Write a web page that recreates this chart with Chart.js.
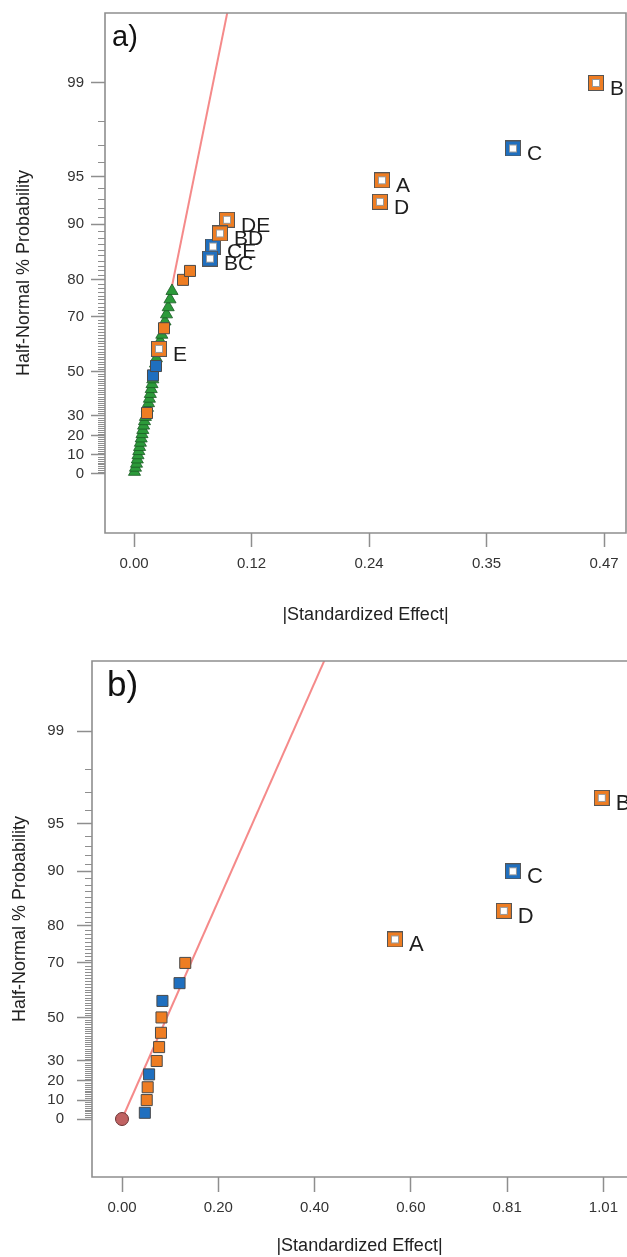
<!DOCTYPE html>
<html>
<head>
<meta charset="utf-8">
<script src="https://cdn.jsdelivr.net/npm/chart.js@4.4.1/dist/chart.umd.min.js"></script>
<style>
  html, body { margin: 0; padding: 0; background: #fff; }
  body { width: 627px; height: 1257px; position: relative; overflow: hidden; }
  #ca { position: absolute; left: 0; top: 0; }
  #cb { position: absolute; left: 0; top: 640px; }
</style>
</head>
<body>
<canvas id="ca" width="627" height="640"></canvas>
<canvas id="cb" width="627" height="617"></canvas>
<script>
const FONT = "'Liberation Sans', Arial, sans-serif";
const ORANGE = '#ee7d23', BLUE = '#1f6fbf', GREEN = '#2c9a3a', PINK = '#f58a8a', AXIS = '#8e8e8e';

// probability axis (half-normal %), same for both panels
const yMajorPct = [0, 10, 20, 30, 50, 70, 80, 90, 95, 99];

// ---------- a) ----------
const aTickVals = [0, 0.1175, 0.235, 0.3525, 0.47];
const aTickLabels = ['0.00', '0.12', '0.24', '0.35', '0.47'];
// error estimates (green triangles)
const aErrP = [1.1, 3.3, 5.4, 7.6, 9.8, 12.0, 14.1, 16.3, 18.5, 20.7, 22.8, 25.0, 27.2, 29.3,
               33.7, 35.9, 38.0, 40.2, 42.4, 44.6, 46.7, 53.3, 55.4, 57.6, 62.0, 64.1,
               68.5, 70.7, 72.8, 75.0, 77.2];
const aErrX = [0.0005, 0.0015, 0.0025, 0.0033, 0.0040, 0.0048, 0.0056, 0.0064, 0.0072, 0.0080, 0.0088, 0.0096, 0.0105, 0.0114,
               0.0135, 0.0145, 0.0154, 0.0163, 0.0172, 0.0180, 0.0188, 0.0215, 0.0224, 0.0236, 0.0262, 0.0278,
               0.0310, 0.0325, 0.0342, 0.0360, 0.0380];
// unlabelled effects
const aOrangeX = [0.013, 0.030, 0.049, 0.056];
const aOrangeP = [31.2, 66.3, 79.9, 81.9];
const aBlueX = [0.019, 0.022];
const aBlueP = [48.4, 52.3];
// labelled effects
const aHollowOrangeNames = ['B', 'A', 'D', 'DE', 'BD', 'E'];
const aHollowOrangeX = [0.462, 0.248, 0.246, 0.093, 0.086, 0.025];
const aHollowOrangeP = [99.0, 94.7, 92.7, 90.6, 88.7, 59.0];
const aHollowBlueNames = ['C', 'CE', 'BC'];
const aHollowBlueX = [0.379, 0.079, 0.076];
const aHollowBlueP = [96.8, 86.6, 84.4];
// fitted line
const aLineX = [0, 0.101];
const aLineP = [0, 99.9];

// ---------- b) ----------
const bTickVals = [0, 0.2025, 0.405, 0.6075, 0.81, 1.0125];
const bTickLabels = ['0.00', '0.20', '0.40', '0.60', '0.81', '1.01'];
const bOrangeX = [0.052, 0.054, 0.073, 0.078, 0.082, 0.083, 0.133];
const bOrangeP = [10.0, 16.7, 30.0, 36.7, 43.3, 50.0, 70.0];
const bBlueX = [0.048, 0.057, 0.085, 0.121];
const bBlueP = [3.3, 23.3, 56.7, 63.3];
const bHollowOrangeNames = ['B', 'D', 'A'];
const bHollowOrangeX = [1.009, 0.803, 0.574];
const bHollowOrangeP = [96.7, 83.3, 76.7];
const bHollowBlueNames = ['C'];
const bHollowBlueX = [0.822];
const bHollowBlueP = [90.0];
const bOriginX = [0];
const bOriginP = [0];
const bLineX = [0, 0.46];
const bLineP = [0, 99.9];

// inverse normal cdf (Acklam)
function probit(q) {
  const a = [-39.69683028665376, 220.9460984245205, -275.9285104469687, 138.3577518672690, -30.66479806614716, 2.506628277459239];
  const b = [-54.47609879822406, 161.5858368580409, -155.6989798598866, 66.80131188771972, -13.28068155288572];
  const c = [-0.007784894002430293, -0.3223964580411365, -2.400758277161838, -2.549732539343734, 4.374664141464968, 2.938163982698783];
  const d = [0.007784695709041462, 0.3224671290700398, 2.445134137142996, 3.754408661907416];
  const lo = 0.02425;
  if (q < lo) {
    const r = Math.sqrt(-2 * Math.log(q));
    return (((((c[0]*r+c[1])*r+c[2])*r+c[3])*r+c[4])*r+c[5]) / ((((d[0]*r+d[1])*r+d[2])*r+d[3])*r+1);
  }
  if (q > 1 - lo) {
    const r = Math.sqrt(-2 * Math.log(1 - q));
    return -(((((c[0]*r+c[1])*r+c[2])*r+c[3])*r+c[4])*r+c[5]) / ((((d[0]*r+d[1])*r+d[2])*r+d[3])*r+1);
  }
  const s = q - 0.5, r = s * s;
  return (((((a[0]*r+a[1])*r+a[2])*r+a[3])*r+a[4])*r+a[5])*s / (((((b[0]*r+b[1])*r+b[2])*r+b[3])*r+b[4])*r+1);
}
const hnz = pct => probit(0.5 + pct / 200);
const pts = (xs, ps) => xs.map((x, i) => ({x: x, y: hnz(ps[i])}));

// hollow square marker
function hollow(ring) {
  const c = document.createElement('canvas');
  c.width = c.height = 16;
  const g = c.getContext('2d');
  g.fillStyle = '#555'; g.fillRect(0, 0, 16, 16);
  g.fillStyle = ring; g.fillRect(1, 1, 14, 14);
  g.fillStyle = '#9a9a9a'; g.fillRect(4, 4, 8, 8);
  g.fillStyle = '#fff'; g.fillRect(5, 5, 6, 6);
  return c;
}

const minorTicks = {
  id: 'minorTicks',
  afterDraw(chart, args, o) {
    const y = chart.scales.y, left = chart.chartArea.left, ctx = chart.ctx;
    ctx.save();
    ctx.strokeStyle = AXIS; ctx.lineWidth = 1.2;
    ctx.beginPath();
    for (let p = 1; p < 99; p++) {
      if (yMajorPct.includes(p)) continue;
      const py = Math.round(y.getPixelForValue(hnz(p))) + 0.5;
      ctx.moveTo(left - o.len, py); ctx.lineTo(left, py);
    }
    ctx.stroke();
    ctx.restore();
  }
};

const frame = {
  id: 'frame',
  afterDraw(chart, args, o) {
    const ctx = chart.ctx, a = chart.chartArea;
    ctx.save();
    ctx.strokeStyle = AXIS; ctx.lineWidth = 1.6;
    ctx.beginPath();
    if (o.open) {
      ctx.moveTo(chart.width, a.top); ctx.lineTo(a.left, a.top);
      ctx.lineTo(a.left, a.bottom); ctx.lineTo(chart.width, a.bottom);
    } else {
      ctx.rect(a.left, a.top, a.right - a.left, a.bottom - a.top);
    }
    ctx.stroke();
    ctx.restore();
  }
};

const effectLabels = {
  id: 'effectLabels',
  afterDatasetsDraw(chart, args, o) {
    const ctx = chart.ctx;
    ctx.save();
    ctx.font = o.size + 'px ' + FONT;
    ctx.fillStyle = '#1e1e1e';
    ctx.textBaseline = 'middle';
    chart.data.datasets.forEach((ds, i) => {
      if (!ds.names) return;
      chart.getDatasetMeta(i).data.forEach((pt, j) => ctx.fillText(ds.names[j], pt.x + 14, pt.y + 6));
    });
    ctx.restore();
  }
};

const panelTag = {
  id: 'panelTag',
  afterDraw(chart, args, o) {
    const ctx = chart.ctx, a = chart.chartArea;
    ctx.save();
    ctx.font = o.size + 'px ' + FONT;
    ctx.fillStyle = '#111';
    ctx.textBaseline = 'alphabetic';
    ctx.fillText(o.text, a.left + o.dx, a.top + o.dy);
    ctx.restore();
  }
};

function panel(id, p) {
  return new Chart(document.getElementById(id), {
    type: 'scatter',
    data: { datasets: p.datasets },
    options: {
      responsive: false,
      animation: false,
      events: [],
      layout: { autoPadding: false, padding: { top: p.padTop, right: p.padRight, left: 0, bottom: 0 } },
      scales: {
        x: {
          type: 'linear', min: p.xMin, max: p.xMax,
          afterBuildTicks: s => { s.ticks = p.tickVals.map(v => ({value: v})); },
          afterFit: s => { s.height = p.xHeight; s.paddingLeft = 0; s.paddingRight = 0; },
          ticks: { callback: (v, i) => p.tickLabels[i], autoSkip: false, maxRotation: 0, padding: p.xPad,
                   font: { family: FONT, size: 15 }, color: '#333' },
          grid: { drawOnChartArea: false, tickLength: p.tickLen, tickColor: AXIS, tickWidth: 1.5 },
          border: { display: false },
          title: { display: true, text: '|Standardized Effect|', color: '#222',
                   font: { family: FONT, size: 18 }, padding: { top: 0, bottom: p.xTitlePad } }
        },
        y: {
          type: 'linear', min: p.yMin, max: p.yMax,
          afterBuildTicks: s => { s.ticks = yMajorPct.map(v => ({value: hnz(v)})); },
          afterFit: s => { s.width = p.yWidth; s.paddingTop = 0; s.paddingBottom = 0; },
          ticks: { callback: (v, i) => String(yMajorPct[i]), autoSkip: false, padding: p.yPad,
                   font: { family: FONT, size: 15 }, color: '#333' },
          grid: { drawOnChartArea: false, tickLength: p.tickLen, tickColor: AXIS, tickWidth: 1.5 },
          border: { display: false },
          title: { display: true, text: 'Half-Normal % Probability', color: '#222',
                   font: { family: FONT, size: 18 }, padding: { top: p.yTitlePad, bottom: 0 } }
        }
      },
      plugins: {
        legend: { display: false },
        tooltip: { enabled: false },
        minorTicks: { len: 7 },
        frame: { open: p.open },
        effectLabels: { size: p.labelSize },
        panelTag: p.tag
      }
    },
    plugins: [minorTicks, frame, effectLabels, panelTag]
  });
}

const lineDs = (xs, ps) => ({ data: pts(xs, ps), showLine: true, borderColor: PINK, borderWidth: 2, pointRadius: 0, order: 5 });
const solidDs = (xs, ps, col) => ({ data: pts(xs, ps), pointStyle: 'rect', pointRadius: 7.8, backgroundColor: col,
                                    borderColor: '#4a4a4a', borderWidth: 1, order: 3 });
const hollowDs = (xs, ps, col, names) => ({ data: pts(xs, ps), pointStyle: hollow(col), pointRadius: 8, names: names, order: 2 });

panel('ca', {
  padTop: 13, padRight: 1, xMin: -0.029, xMax: 0.492, yMin: -0.389, yMax: 3.037,
  xHeight: 107, yWidth: 105, xPad: 8, yPad: 7, tickLen: 14, xTitlePad: 14, yTitlePad: 13,
  tickVals: aTickVals, tickLabels: aTickLabels, open: false, labelSize: 21,
  tag: { text: 'a)', dx: 7, dy: 33, size: 29 },
  datasets: [
    lineDs(aLineX, aLineP),
    { data: pts(aErrX, aErrP), pointStyle: 'triangle', pointRadius: 7, backgroundColor: GREEN,
      borderColor: '#1b5a24', borderWidth: 0.8, order: 4 },
    solidDs(aOrangeX, aOrangeP, ORANGE),
    solidDs(aBlueX, aBlueP, BLUE),
    hollowDs(aHollowOrangeX, aHollowOrangeP, ORANGE, aHollowOrangeNames),
    hollowDs(aHollowBlueX, aHollowBlueP, BLUE, aHollowBlueNames)
  ]
});

panel('cb', {
  padTop: 21, padRight: 0, xMin: -0.0631, xMax: 1.062, yMin: -0.385, yMax: 3.041,
  xHeight: 80, yWidth: 92, xPad: 7, yPad: 13, tickLen: 15, xTitlePad: 0, yTitlePad: 9,
  tickVals: bTickVals, tickLabels: bTickLabels, open: true, labelSize: 22,
  tag: { text: 'b)', dx: 15, dy: 35, size: 35 },
  datasets: [
    lineDs(bLineX, bLineP),
    { data: pts(bOriginX, bOriginP), pointStyle: 'circle', pointRadius: 6.5, backgroundColor: '#c06262',
      borderColor: '#6b3434', borderWidth: 1, order: 4 },
    solidDs(bOrangeX, bOrangeP, ORANGE),
    solidDs(bBlueX, bBlueP, BLUE),
    hollowDs(bHollowOrangeX, bHollowOrangeP, ORANGE, bHollowOrangeNames),
    hollowDs(bHollowBlueX, bHollowBlueP, BLUE, bHollowBlueNames)
  ]
});
</script>
</body>
</html>
